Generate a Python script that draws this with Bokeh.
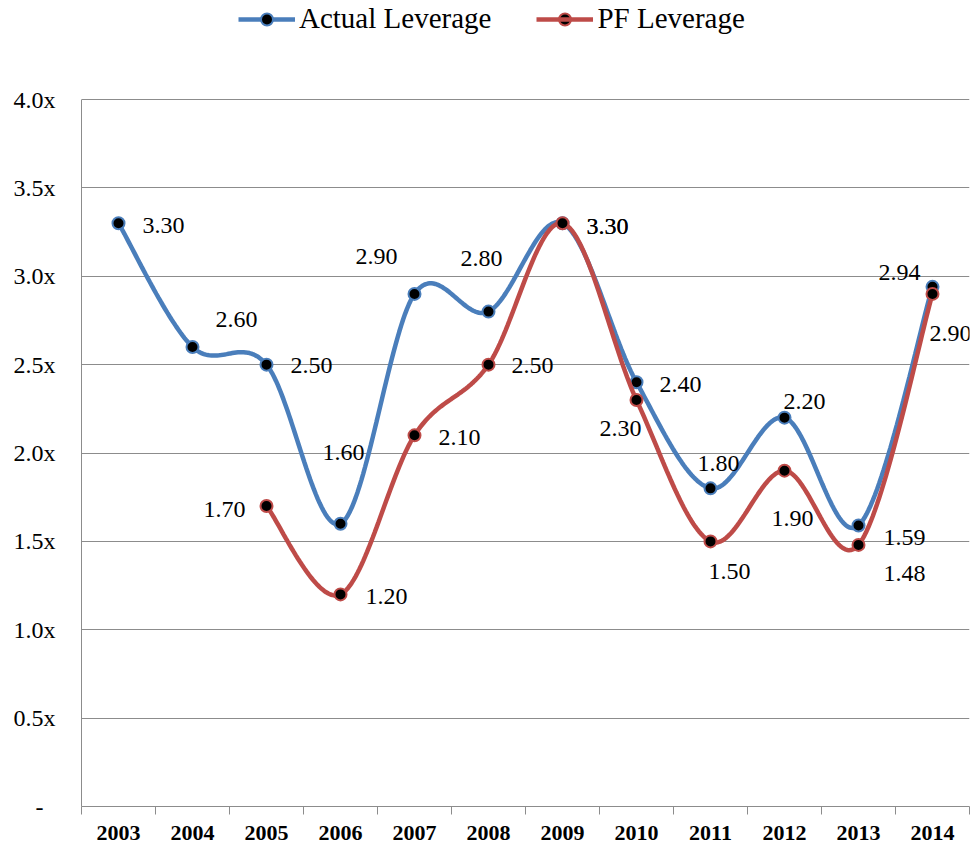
import numpy as np
from bokeh.plotting import figure
from bokeh.models import (ColumnDataSource, Range1d, FixedTicker, Legend, LegendItem)
from bokeh.embed import file_html
from bokeh.resources import INLINE

# ---- data ----
years = ["2003", "2004", "2005", "2006", "2007", "2008", "2009", "2010", "2011", "2012", "2013", "2014"]
actual = [3.30, 2.60, 2.50, 1.60, 2.90, 2.80, 3.30, 2.40, 1.80, 2.20, 1.59, 2.94]
pf = [None, None, 1.70, 1.20, 2.10, 2.50, 3.30, 2.30, 1.50, 1.90, 1.48, 2.90]
y_ticks = [0, 0.5, 1.0, 1.5, 2.0, 2.5, 3.0, 3.5, 4.0]

# label placement (screen px offsets), style only
actual_off = [(24, 2), (23, -27), (24, 1), (-18, -71), (-59, -37), (-28, -53),
              (24, 3), (23, 2), (-13, -25), (-1, -16), (25, 12), (-54, -14)]
pf_off = [None, None, (-63, 3), (25, 2), (24, 2), (23, 1),
          (24, 3), (-37, 29), (-2, 30), (-13, 48), (25, 29), (-3, 40)]

BLUE = "#4A7EBB"
RED = "#BE4B48"
GRID = "#8C8C8C"
FONT = "Liberation Serif"

# layout: plot area bottom at 806 px, value axis top (4.0) at 99 px; the frame
# extends to the top of the canvas so that the legend can sit above the grid
FRAME_H = 806
AXIS_H = 707
Y_TOP = y_ticks[-1] * FRAME_H / AXIS_H


def smooth(xs, ys, n=40):
    P = np.array(list(zip(xs, ys)), dtype=float)
    out_x, out_y = [], []
    m = len(P)
    for i in range(m - 1):
        p0 = P[i - 1] if i > 0 else P[i]
        p1 = P[i]
        p2 = P[i + 1]
        p3 = P[i + 2] if i + 2 < m else P[i + 1]
        c1 = p1 + (p2 - p0) / 6.0
        c2 = p2 - (p3 - p1) / 6.0
        t = np.linspace(0, 1, n)[:, None]
        b = ((1 - t) ** 3) * p1 + 3 * ((1 - t) ** 2) * t * c1 + 3 * (1 - t) * t ** 2 * c2 + t ** 3 * p2
        if i > 0:
            b = b[1:]
        out_x.extend(b[:, 0].tolist())
        out_y.extend(b[:, 1].tolist())
    return out_x, out_y


p = figure(width=978, height=845, output_backend="svg", toolbar_location=None,
           x_range=Range1d(-0.5, len(years) - 0.5), y_range=Range1d(0, Y_TOP),
           min_border_left=81, min_border_right=9, min_border_top=0, min_border_bottom=39)
p.outline_line_color = None
p.background_fill_color = "white"
p.border_fill_color = "white"

# axes
xa = p.xaxis[0]
xa.ticker = FixedTicker(ticks=list(range(len(years))),
                        minor_ticks=[i - 0.5 for i in range(len(years) + 1)])
xa.major_label_overrides = {i: y for i, y in enumerate(years)}
xa.major_tick_in = 0
xa.major_tick_out = 0
xa.minor_tick_in = 0
xa.minor_tick_out = 8
xa.minor_tick_line_color = GRID
xa.axis_line_color = GRID
xa.major_label_text_font = FONT
xa.major_label_text_font_style = "bold"
xa.major_label_text_font_size = "22px"
xa.major_label_text_color = "black"
xa.major_label_standoff = 11

ya = p.yaxis[0]
ya.ticker = FixedTicker(ticks=y_ticks)
ya.bounds = (y_ticks[0], y_ticks[-1])
ya.major_label_overrides = {t: ("-\u2007" if t == 0 else f"{t:.1f}x") for t in y_ticks}
ya.major_tick_in = 0
ya.major_tick_out = 0
ya.minor_tick_line_color = None
ya.axis_line_color = GRID
ya.major_label_text_font = FONT
ya.major_label_text_font_size = "24px"
ya.major_label_text_color = "black"
ya.major_label_standoff = 26

p.xgrid.grid_line_color = None
p.ygrid.ticker = FixedTicker(ticks=y_ticks)
p.ygrid.grid_line_color = GRID
p.ygrid.grid_line_width = 1

idx = list(range(len(years)))

# actual series
ax_s, ay_s = smooth(idx, actual)
l1 = p.line(ax_s, ay_s, line_color=BLUE, line_width=4.5)
s1 = p.scatter(idx, actual, size=12, fill_color="black", line_color=BLUE, line_width=2)

# PF series
pf_x = [i for i, v in zip(idx, pf) if v is not None]
pf_y = [v for v in pf if v is not None]
px_s, py_s = smooth(pf_x, pf_y)
l2 = p.line(px_s, py_s, line_color=RED, line_width=4.5)
s2 = p.scatter(pf_x, pf_y, size=12, fill_color="black", line_color=RED, line_width=2)

# data labels
lab_src = ColumnDataSource(dict(
    x=idx + pf_x,
    y=actual + pf_y,
    text=[f"{v:.2f}" for v in actual] + [f"{v:.2f}" for v in pf_y],
    xo=[o[0] for o in actual_off] + [o[0] for o in pf_off if o is not None],
    yo=[o[1] for o in actual_off] + [o[1] for o in pf_off if o is not None],
))
p.text(x="x", y="y", text="text", x_offset="xo", y_offset="yo", source=lab_src,
       text_font=FONT, text_font_size="24px", text_color="black",
       text_align="left", text_baseline="middle")

legend = Legend(items=[LegendItem(label="Actual Leverage", renderers=[l1, s1]),
                       LegendItem(label="PF Leverage", renderers=[s2, l2])],
                location=(157, 771), orientation="horizontal",
                glyph_width=57, glyph_height=30, label_height=30,
                label_standoff=4, spacing=45, padding=0, margin=0,
                border_line_color=None, background_fill_alpha=0,
                label_text_font=FONT, label_text_font_size="29px",
                label_text_color="black")
p.add_layout(legend, "center")

open("out.html", "w").write(file_html(p, INLINE))
